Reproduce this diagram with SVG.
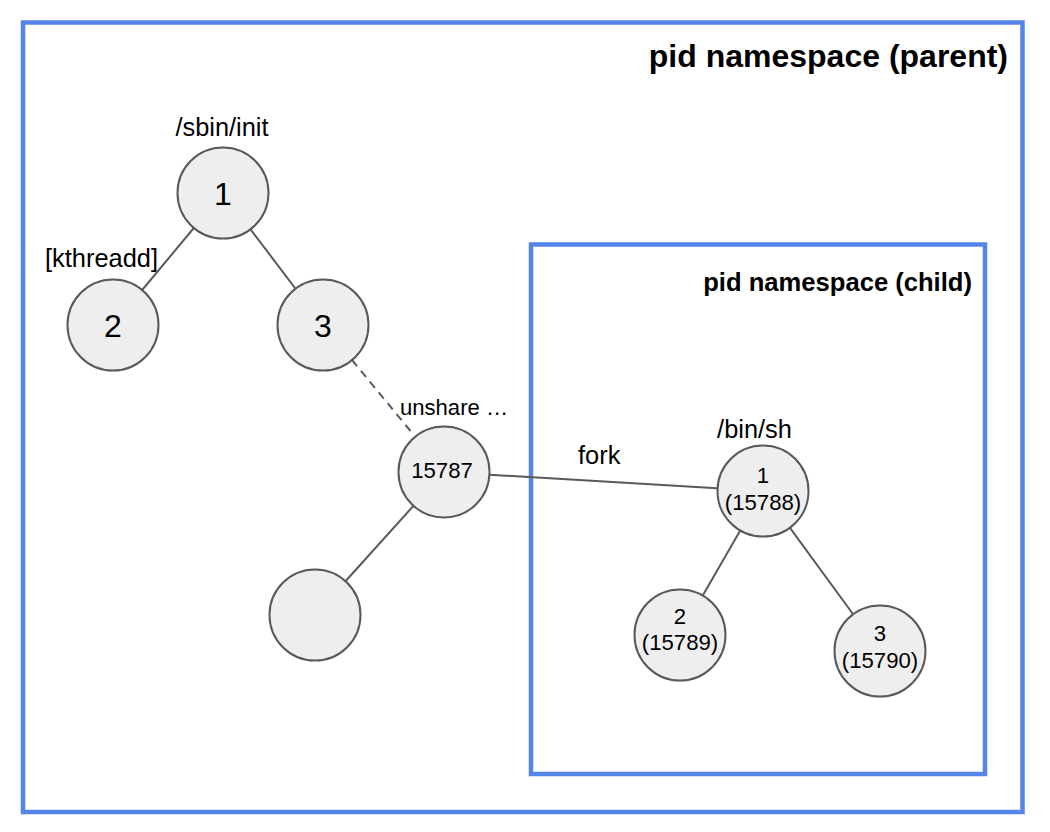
<svg xmlns="http://www.w3.org/2000/svg" width="1050" height="832" viewBox="0 0 1050 832">
<style>
.ns{fill:none;stroke:#5585ea;stroke-width:4.5}
.node{fill:#eeeeee;stroke:#595959;stroke-width:2}
.edge{stroke:#595959;stroke-width:2;fill:none}
.dash{stroke-dasharray:8 6}
text{font-family:"Liberation Sans",Arial,sans-serif;fill:#000}
.big{font-size:32px;text-anchor:middle}
.mid{font-size:22.2px;text-anchor:middle}
.lbl{font-size:25.4px}
.title{font-weight:bold;text-anchor:end}
</style>
<rect width="1050" height="832" fill="#fff"/>
<g id="ns-parent">
<rect class="ns" x="23" y="22.5" width="999.5" height="789.5"/>
<text class="title" x="1008" y="67" font-size="32">pid namespace (parent)</text>
</g>
<g id="ns-child">
<rect class="ns" x="531" y="244.5" width="454" height="529.5"/>
<text class="title" x="972" y="291" font-size="25.6">pid namespace (child)</text>
</g>
<g id="connectors">
<line class="edge" x1="223" y1="193" x2="113" y2="325"/>
<line class="edge" x1="223" y1="193" x2="323" y2="325"/>
<line class="edge dash" x1="352" y1="360" x2="413" y2="434"/>
<line class="edge" x1="444" y1="472" x2="315" y2="615"/>
<line class="edge" x1="444" y1="472" x2="763" y2="491"/>
<line class="edge" x1="763" y1="491" x2="680" y2="635"/>
<line class="edge" x1="763" y1="491" x2="880" y2="651"/>
<text x="400" y="415" font-size="22" textLength="108" lengthAdjust="spacingAndGlyphs">unshare …</text>
<text class="lbl" x="578" y="464">fork</text>
</g>
<g id="n1">
<circle class="node" cx="223" cy="193" r="45.5"/>
<text class="big" x="223" y="205">1</text>
<text class="lbl" x="222" y="136" text-anchor="middle">/sbin/init</text>
</g>
<g id="n2">
<circle class="node" cx="113" cy="325" r="45.5"/>
<text class="big" x="113" y="337">2</text>
<text class="lbl" x="101.5" y="267" text-anchor="middle">[kthreadd]</text>
</g>
<g id="n3">
<circle class="node" cx="323" cy="325" r="45.5"/>
<text class="big" x="323" y="337">3</text>
</g>
<g id="n15787">
<circle class="node" cx="444" cy="472" r="45.5"/>
<text class="mid" x="442" y="478">15787</text>
</g>
<g id="n-empty">
<circle class="node" cx="315" cy="615" r="45.5"/>
</g>
<g id="c1">
<circle class="node" cx="763" cy="491" r="45.5"/>
<text class="mid" x="763" y="483">1</text>
<text class="mid" x="763" y="510">(15788)</text>
<text class="lbl" x="754.5" y="438" text-anchor="middle">/bin/sh</text>
</g>
<g id="c2">
<circle class="node" cx="680" cy="635" r="45.5"/>
<text class="mid" x="680" y="624">2</text>
<text class="mid" x="680" y="650">(15789)</text>
</g>
<g id="c3">
<circle class="node" cx="880" cy="651" r="45.5"/>
<text class="mid" x="880" y="641">3</text>
<text class="mid" x="880" y="668">(15790)</text>
</g>
</svg>
